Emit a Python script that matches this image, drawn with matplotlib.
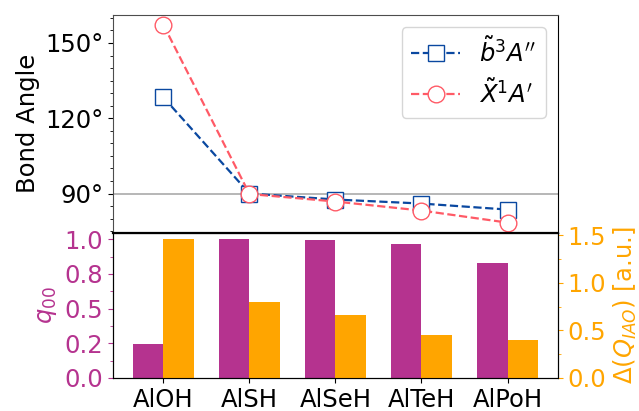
import matplotlib
matplotlib.use("Agg")
import matplotlib.pyplot as plt
import numpy as np
from matplotlib.ticker import MultipleLocator, FuncFormatter, FormatStrFormatter

# Data
molecules = ["AlOH", "AlSH", "AlSeH", "AlTeH", "AlPoH"]
angle_b3 = [128.3, 90.0, 87.6, 86.0, 83.6]      # b~3A''
angle_x1 = [157.2, 89.8, 86.8, 83.2, 78.4]      # X~1A'
q00 = [0.245, 0.998, 0.993, 0.964, 0.826]
dq_iao = [1.458, 0.803, 0.665, 0.454, 0.400]

BLUE = "#0a48a0"
RED = "#ff5a66"
PURPLE = "#b5338f"
ORANGE = "orange"
FS = 17.5

fig = plt.figure(figsize=(6.39, 4.11), dpi=100)
ax_top = fig.add_axes([0.177, 0.4343, 0.696, 0.5292])
ax_bot = fig.add_axes([0.177, 0.0803, 0.696, 0.354], sharex=ax_top)

x = np.arange(len(molecules))

# Top panel: bond angles
ax_top.axhline(90, color="#aaaaaa", lw=1.2, zorder=1)
ax_top.plot(x, angle_b3, ls="--", color=BLUE, marker="s", ms=12, mfc="white",
            mec=BLUE, lw=1.6, label=r"$\tilde{b}^3A''$", zorder=3)
ax_top.plot(x, angle_x1, ls="--", color=RED, marker="o", ms=12, mfc="white",
            mec=RED, lw=1.6, label=r"$\tilde{X}^1A'$", zorder=3)
ax_top.yaxis.set_major_locator(MultipleLocator(30))
ax_top.yaxis.set_minor_locator(MultipleLocator(5))
ax_top.yaxis.set_major_formatter(FuncFormatter(lambda v, p: f"{int(round(v))}°"))
ax_top.set_ylabel("Bond Angle", fontsize=FS)
ax_top.tick_params(axis="y", labelsize=FS)
ax_top.tick_params(axis="x", bottom=False, labelbottom=False)
for s in ["left", "top"]:
    ax_top.spines[s].set_color("0.3")
ax_top.legend(loc="upper right", fontsize=FS, handlelength=2.0,
              borderaxespad=0.5)

# Bottom panel: bars
w = 0.35
ax_bot.bar(x - w / 2, q00, w, color=PURPLE)
ax_bot.set_ylabel(r"$q_{00}$", color=PURPLE, fontsize=FS)
ax_bot.yaxis.set_major_locator(MultipleLocator(0.25))
ax_bot.yaxis.set_minor_locator(MultipleLocator(0.125))
ax_bot.yaxis.set_major_formatter(FormatStrFormatter("%.1f"))
ax_bot.tick_params(axis="y", colors=PURPLE, labelsize=FS)
ax_bot.tick_params(axis="y", which="minor", colors=PURPLE)
ax_bot.set_xticks(x)
ax_bot.set_xticklabels(molecules)
ax_bot.tick_params(axis="x", labelsize=FS)
ax_bot.spines["top"].set_linewidth(1.6)

ax_r = ax_bot.twinx()
ax_r.bar(x + w / 2, dq_iao, w, color=ORANGE)
ax_r.set_ylabel(r"$\Delta(Q_{IAO})$ [a.u.]", color=ORANGE, fontsize=FS)
ax_r.yaxis.set_major_locator(MultipleLocator(0.5))
ax_r.yaxis.set_minor_locator(MultipleLocator(0.25))
ax_r.yaxis.set_major_formatter(FormatStrFormatter("%.1f"))
ax_r.tick_params(axis="y", colors=ORANGE, labelsize=FS)
ax_r.tick_params(axis="y", which="minor", colors=ORANGE)

fig.savefig("out.png", dpi=100)
